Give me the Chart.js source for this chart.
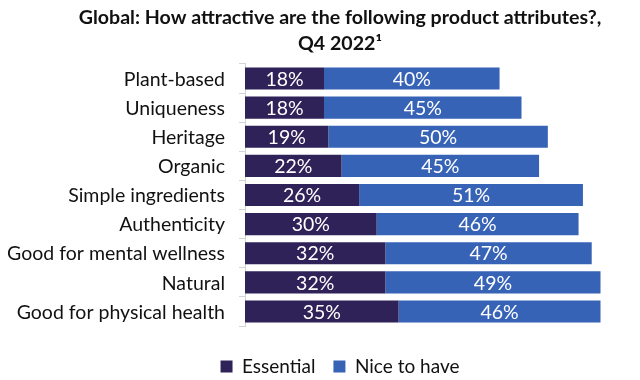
<!DOCTYPE html>
<html>
<head>
<meta charset="utf-8">
<script src="https://cdn.jsdelivr.net/npm/chart.js@4.4.0/dist/chart.umd.min.js"></script>
<style>
  html, body { margin: 0; padding: 0; background: #fff; }
  #wrap { width: 640px; height: 380px; }
</style>
</head>
<body>
<div id="wrap"><canvas id="attrChart"></canvas></div>
<script>
// data
const attributes = ['Plant-based', 'Uniqueness', 'Heritage', 'Organic', 'Simple ingredients',
  'Authenticity', 'Good for mental wellness', 'Natural', 'Good for physical health'];
const essential = [18, 18, 19, 22, 26, 30, 32, 32, 35];
const niceToHave = [40, 45, 50, 45, 51, 46, 47, 49, 46];

const FONT = 'Lato, "Open Sans", sans-serif';

// white % labels in the middle of each bar piece
const barLabels = {
  id: 'barLabels',
  afterDatasetsDraw(chart) {
    const ctx = chart.ctx;
    ctx.save();
    ctx.fillStyle = '#ffffff';
    ctx.font = '19.5px ' + FONT;
    ctx.textAlign = 'center';
    ctx.textBaseline = 'middle';
    chart.data.datasets.forEach(function (ds, i) {
      chart.getDatasetMeta(i).data.forEach(function (bar, j) {
        ctx.fillText(ds.data[j] + '%', (bar.x + bar.base) / 2, bar.y + 1);
      });
    });
    ctx.restore();
  }
};

// category names drawn by hand so the long ones are not clipped by the axis box
const catLabels = {
  id: 'catLabels',
  afterDraw(chart) {
    const ctx = chart.ctx;
    const y = chart.scales.y;
    ctx.save();
    ctx.fillStyle = '#111';
    ctx.font = '19.5px ' + FONT;
    ctx.textAlign = 'right';
    ctx.textBaseline = 'middle';
    attributes.forEach(function (name, i) {
      ctx.fillText(name, y.right - 20, y.getPixelForTick(i) + 1);
    });
    ctx.restore();
  }
};

new Chart(document.getElementById('attrChart'), {
  type: 'bar',
  data: {
    labels: attributes,
    datasets: [
      { label: 'Essential', data: essential, backgroundColor: '#2f2259' },
      { label: 'Nice to have', data: niceToHave, backgroundColor: '#3763b7' }
    ]
  },
  options: {
    indexAxis: 'y',
    responsive: true,
    maintainAspectRatio: false,
    animation: false,
    barPercentage: 0.76,
    categoryPercentage: 1,
    layout: { padding: { left: 40, right: 0, top: 0, bottom: -6 } },
    scales: {
      x: {
        stacked: true,
        min: 0,
        max: 90,
        grid: { display: false },
        border: { display: false },
        ticks: { display: false },
        afterFit(scale) { scale.height = 13; }
      },
      y: {
        stacked: true,
        grid: { offset: true, drawOnChartArea: false, tickLength: 6, color: '#d4d4d4' },
        border: { display: true, color: '#d4d4d4' },
        ticks: { display: false },
        afterFit(scale) { scale.width = 205; }
      }
    },
    plugins: {
      title: {
        display: true,
        text: ['Global: How attractive are the following product attributes?,', 'Q4 2022\u00b9'],
        color: '#111',
        font: { family: FONT, size: 19.6, weight: 'bold', lineHeight: 1.3 },
        padding: { top: 5, bottom: 8 }
      },
      legend: {
        position: 'bottom',
        labels: {
          color: '#111',
          font: { family: FONT, size: 19 },
          boxWidth: 12,
          boxHeight: 12,
          padding: 18
        }
      },
      tooltip: { enabled: false }
    }
  },
  plugins: [barLabels, catLabels]
});
</script>
</body>
</html>
